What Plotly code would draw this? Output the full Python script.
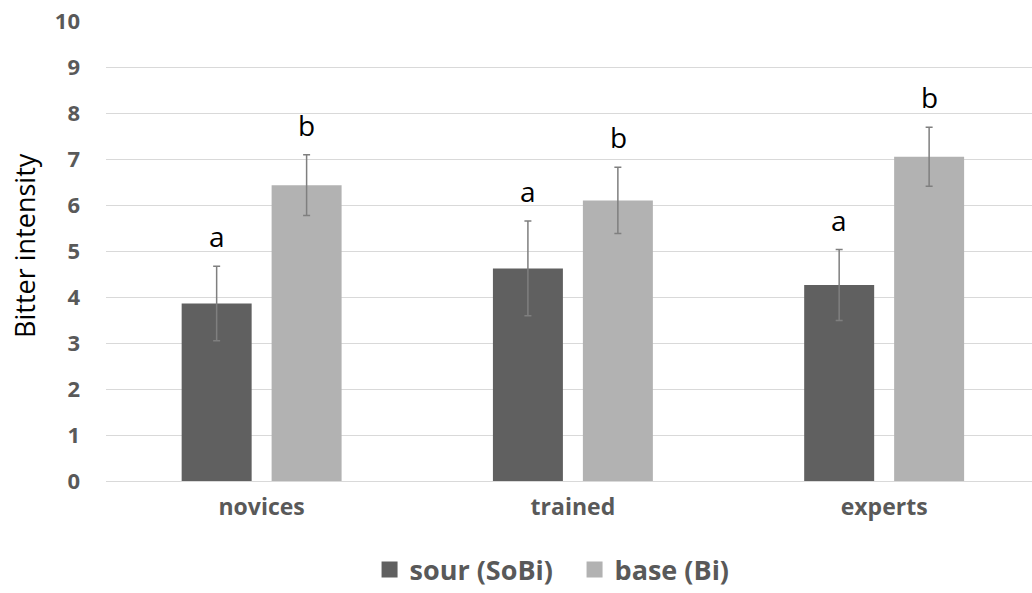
import plotly.graph_objects as go

# Bitter intensity ratings by panel group
groups = ["novices", "trained", "experts"]
sour_mean = [3.86, 4.62, 4.26]
sour_err = [0.81, 1.03, 0.77]
base_mean = [6.43, 6.10, 7.05]
base_err = [0.66, 0.72, 0.64]
sour_letters = ["a", "a", "a"]
base_letters = ["b", "b", "b"]
y_ticks = list(range(0, 11))

SOUR_COLOR = "#606060"
BASE_COLOR = "#b2b2b2"
ERR_COLOR = "#7f7f7f"
LABEL_COLOR = "#595959"
FONT = "Open Sans"

fig = go.Figure()
for name, means, errs, color in (("sour (SoBi)", sour_mean, sour_err, SOUR_COLOR),
                                 ("base (Bi)", base_mean, base_err, BASE_COLOR)):
    fig.add_trace(go.Bar(
        name=name, x=groups, y=means, showlegend=False,
        marker=dict(color=color, line=dict(width=0)),
        error_y=dict(type="data", array=errs, color=ERR_COLOR, thickness=1.5, width=3.5),
    ))
    # legend entry with a larger square swatch
    fig.add_trace(go.Scatter(
        name=name, x=[None], y=[None], mode="markers",
        marker=dict(symbol="square", size=16, color=color, line=dict(width=0)),
        showlegend=True,
    ))

# significance letters above each error bar
offset = 0.145  # half of a bar slot in category units
for i, g in enumerate(groups):
    for sign, means, errs, letters in ((-1, sour_mean, sour_err, sour_letters),
                                       (1, base_mean, base_err, base_letters)):
        fig.add_annotation(
            x=i + sign * offset, y=means[i] + errs[i], xref="x", yref="y",
            text=letters[i], showarrow=False, yanchor="bottom", yshift=9,
            font=dict(family=FONT, size=28, color="#000000"),
        )

# y-axis title
fig.add_annotation(
    text="Bitter intensity", xref="paper", yref="paper", x=-0.0886, y=0.513,
    textangle=-90, showarrow=False, xanchor="center", yanchor="middle",
    font=dict(family=FONT, size=27, color="#000000"),
)

fig.update_layout(
    width=1032, height=593,
    margin=dict(l=106, r=0, t=21, b=112, autoexpand=False),
    paper_bgcolor="white", plot_bgcolor="white",
    barmode="group", bargap=0.422, bargroupgap=0.222,
    font=dict(family=FONT),
    showlegend=True,
    legend=dict(
        orientation="h", x=0.506, xanchor="center", y=-0.14, yanchor="top",
        font=dict(family=FONT, size=27, color=LABEL_COLOR, weight="bold"),
        itemsizing="trace", traceorder="normal", entrywidth=160,
    ),
    xaxis=dict(
        type="category", range=[-0.5, 2.475],
        showgrid=False, showline=False, zeroline=False,
        tickfont=dict(family=FONT, size=23, color=LABEL_COLOR, weight="bold"),
        ticks="outside", ticklen=5, tickcolor="rgba(0,0,0,0)",
    ),
    yaxis=dict(
        range=[0, 10], tickvals=y_ticks,
        showgrid=True, gridcolor="#d9d9d9", gridwidth=1,
        zeroline=True, zerolinecolor="#d9d9d9", zerolinewidth=1,
        showline=False,
        tickfont=dict(family=FONT, size=22, color=LABEL_COLOR, weight="bold"),
        ticklabelstandoff=25,
    ),
)

fig.write_html("out.html")
